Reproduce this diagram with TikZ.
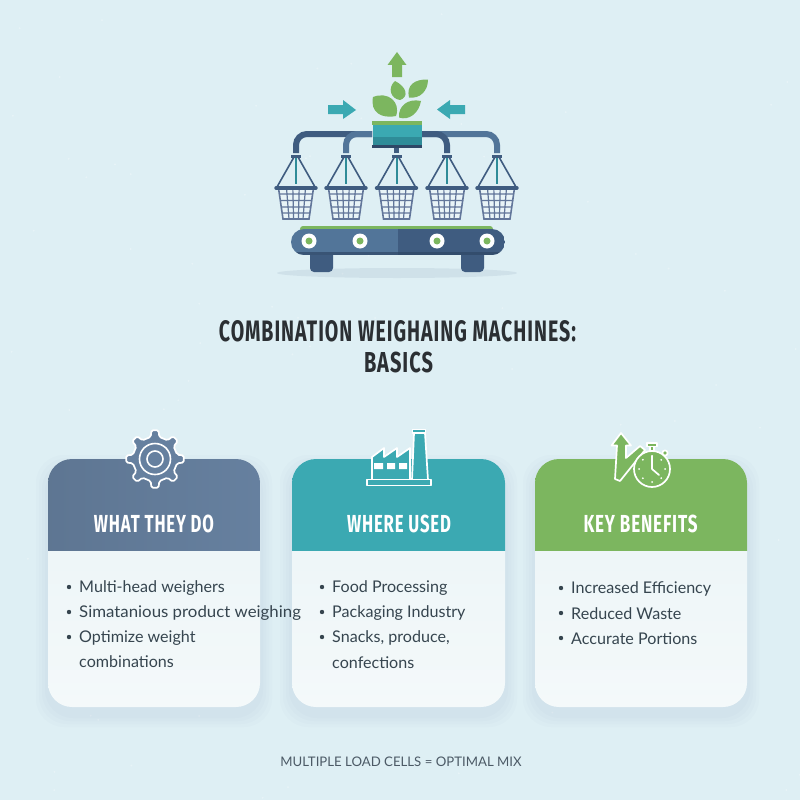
\documentclass[tikz,border=0pt]{standalone}
\usepackage{graphicx}
\usepackage{fontspec}
\setmainfont{Lato}
\newfontfamily\headfont[LetterSpace=5]{Fira Sans}
\usetikzlibrary{calc}
\definecolor{bgc}{HTML}{DEEFF4}
\definecolor{cardtop}{HTML}{EAF4F7}
\definecolor{cardbot}{HTML}{F4F9FA}
\definecolor{navy}{HTML}{3F5C80}
\definecolor{midblue}{HTML}{527599}
\definecolor{darkb}{HTML}{2F4766}
\definecolor{gridb}{HTML}{62769A}
\definecolor{tealc}{HTML}{3BA9B2}
\definecolor{teald}{HTML}{2F8C98}
\definecolor{greenc}{HTML}{7CB65F}
\definecolor{slatec}{HTML}{66809F}
\definecolor{inkc}{HTML}{2B2F33}
\definecolor{bodyc}{HTML}{36454F}
\definecolor{footc}{HTML}{4C5A66}
\tikzset{
  x=1pt,y=-1pt,
  iconline/.style={draw=white,line width=1.7pt,line join=round},
  bodytext/.style={anchor=west,inner sep=0pt,font=\fontsize{16.1}{18}\selectfont,text=bodyc},
  bulletdot/.style={circle,fill=bodyc,inner sep=0pt,minimum size=4.4pt},
  fittext/.style={inner sep=0pt},
  pipe/.style={draw=navy,line width=6pt,rounded corners=11pt},
}
\newcommand{\fitbox}[4]{\resizebox{#1pt}{#2pt}{\headfont\bfseries\color{#3}#4}}
\newcommand{\cardbox}[4]{%
  \foreach \g in {12,9,6,3}{
    \fill[navy,opacity=0.014,rounded corners=28pt] (#1-\g,459+8-\g) rectangle (#2+\g,707+8+\g);
  }
  \shade[top color=cardtop,bottom color=cardbot,rounded corners=24pt] (#1,459) rectangle (#2,707);
  \begin{scope}
    \clip (#1,459) rectangle (#2,550);
    \shade[left color=#3,right color=#4,rounded corners=24pt] (#1,459) rectangle (#2,707);
  \end{scope}
}
\newcommand{\basket}[1]{%
  \begin{scope}[shift={(#1,0)}]
    \fill[white,opacity=0.35] (-17.5,188) -- (-13,219) -- (13,219) -- (17.5,188) -- cycle;
    \draw[navy,line width=1.6pt] (-2,157) -- (-19,187) (2,157) -- (19,187);
    \draw[teald,line width=2pt] (0,158) -- (0,184);
    \fill[navy] (-5,154.5) rectangle (5,157.5);
    \draw[gridb,line width=1.6pt] (-17.5,188) -- (-13,219) -- (13,219) -- (17.5,188);
    \draw[gridb,line width=1.2pt]
      (-9.5,188) -- (-7,219) (-3.2,188) -- (-2.4,219) (3.2,188) -- (2.4,219) (9.5,188) -- (7,219)
      (-16.8,194) -- (16.8,194) (-16,200.5) -- (16,200.5) (-15,207) -- (15,207) (-14,213) -- (14,213);
    \draw[navy,line width=3.4pt,line cap=round] (-20,188) -- (20,188);
  \end{scope}
}
\begin{document}
\begin{tikzpicture}
\useasboundingbox (0,0) rectangle (800,800);
\fill[bgc] (0,0) rectangle (800,800);
\pgfmathsetseed{42}
\foreach \i in {1,...,90}{
  \pgfmathsetmacro{\px}{rnd*800}
  \pgfmathsetmacro{\py}{rnd*800}
  \fill[white,opacity=0.3] (\px,\py) circle (1pt);
}
% machine shadow
\fill[navy,opacity=0.09] (397,273) ellipse (120 and 5);
% arrows
\fill[greenc] (397,52) -- (406.5,65) -- (402,65) -- (402,77) -- (392,77) -- (392,65) -- (387.5,65) -- cycle;
\fill[tealc] (328,105) -- (343,105) -- (343,100) -- (356,110) -- (343,119) -- (343,114) -- (328,114) -- cycle;
\fill[tealc] (437,109.5) -- (450,100) -- (450,105) -- (465,105) -- (465,114) -- (450,114) -- (450,119) -- cycle;
% leaves
\fill[greenc] (373,97) .. controls (388,91) and (401,102) .. (396,116) .. controls (381,119) and (370,112) .. (373,97) -- cycle;
\fill[greenc] (395,81) .. controls (407,87) and (409,97) .. (400,100) .. controls (391,99) and (387,88) .. (395,81) -- cycle;
\fill[greenc] (428,79.5) .. controls (428,91) and (420,99) .. (409,97.5) .. controls (406,85) and (415,79) .. (428,79.5) -- cycle;
\fill[greenc] (421,101) .. controls (419,113) and (409,121) .. (399,117.5) .. controls (398,106) and (408,98) .. (421,101) -- cycle;
% pipes
\draw[pipe] (296,153) -- (296,134) -- (372,134);
\draw[pipe,draw=midblue] (346,153) -- (346,134) -- (372,134);
\draw[pipe,draw=midblue] (497,153) -- (497,134) -- (422,134);
\draw[pipe] (447,153) -- (447,134) -- (422,134);
% central box
\fill[navy] (394,148) rectangle (399,153);
\fill[tealc] (373,125) rectangle (422,137);
\fill[teald] (373,137) rectangle (422,145);
\fill[darkb] (372,145) rectangle (422,148);
\fill[greenc] (372,121) rectangle (422,125);
% baskets
\basket{296}
\basket{346}
\basket{396.5}
\basket{447}
\basket{497}
% conveyor
\fill[navy,rounded corners=4pt] (310,250) rectangle (333,272);
\fill[navy,rounded corners=4pt] (461,250) rectangle (484,272);
\fill[greenc,rounded corners=3pt] (300,226) rectangle (493,232);
\begin{scope}
  \clip[rounded corners=13pt] (291,229) rectangle (505,255);
  \fill[midblue] (291,229) rectangle (398,255);
  \fill[navy] (398,229) rectangle (505,255);
  \fill[darkb,opacity=0.7] (291,252) rectangle (505,255);
\end{scope}
\foreach \wx in {309,360,437,487}{
  \fill[white] (\wx,241) circle (7.5);
  \fill[greenc] (\wx,241) circle (3.5);
}
% title
\node[fittext] (title1) at (397.5,331.5) {\fitbox{357}{21}{inkc}{COMBINATION WEIGHAING MACHINES:}};
\node[fittext] (title2) at (398.5,362.5) {\fitbox{69}{20.5}{inkc}{BASICS}};
% cards
\cardbox{48}{260}{slatec!92!black}{slatec}
\cardbox{292}{505}{tealc}{tealc}
\cardbox{535}{747}{greenc}{greenc}
% gear icon
\draw[iconline,fill=slatec,rounded corners=1.6pt]
  ([shift={(155,459)}]-11:22.5)
  \foreach \a in {0,45,...,315}{
    -- ([shift={(155,459)}]\a-11:22.5)
    -- ([shift={(155,459)}]\a-7:29)
    -- ([shift={(155,459)}]\a+7:29)
    -- ([shift={(155,459)}]\a+11:22.5)
  } -- cycle;
\draw[white,line width=1.6pt] (155,459) circle (15.5) (155,459) circle (8);
% factory icon
\draw[iconline,fill=tealc] (372,480) -- (372,457) -- (384,448) -- (384,457) -- (397,448) -- (397,457) -- (410,448) -- (410,480) -- cycle;
\draw[iconline,fill=tealc] (412,480) -- (414,433) -- (425,433) -- (428,480) -- cycle;
\draw[iconline,fill=tealc] (412.5,429.5) rectangle (425.5,433);
\draw[iconline,fill=tealc] (367,479.5) rectangle (431,485.5);
\fill[white] (374,463) rectangle (383,469) (387,463) rectangle (395,469) (399,463) rectangle (407,469);
% benefits icon
\draw[iconline,fill=greenc] (621,433) -- (631,445.5) -- (626,445.5) -- (626,458) -- (640,446) -- (645,450) -- (636,461) -- (620,481) -- (615,479) -- (617,445.5) -- (611.5,445.5) -- cycle;
\draw[iconline,fill=greenc] (650,443) rectangle (654,451);
\draw[iconline,fill=greenc] (647,443) rectangle (657,446.5);
\draw[iconline,fill=greenc] (665,453) circle (2.6);
\draw[iconline,fill=greenc] (652,469) circle (18);
\foreach \a in {0,45,...,315}{
  \fill[white] ([shift={(652,469)}]\a:13) circle (1);
}
\draw[white,line width=1.7pt,line cap=round,line join=round] (652,456) -- (652,469) -- (659,475);
% headings
\node[fittext] (h1) at (154,524) {\fitbox{120}{17.5}{white}{WHAT THEY DO}};
\node[fittext] (h2) at (399,524) {\fitbox{104}{17.5}{white}{WHERE USED}};
\node[fittext] (h3) at (640.5,524) {\fitbox{114}{17.5}{white}{KEY BENEFITS}};
% card one text
\node[bulletdot] (b11) at (69,587) {};
\node[bodytext] (t11) at (79,588) {Multi-head weighers};
\node[bulletdot] (b12) at (69,612) {};
\node[bodytext] (t12) at (79,613) {\scalebox{1.045}[1]{Simatanious product weighing}};
\node[bulletdot] (b13) at (69,637) {};
\node[bodytext] (t13) at (79,638) {Optimize weight};
\node[bodytext] (t14) at (79,662) {combinations};
% card two text
\node[bulletdot] (b21) at (322,587) {};
\node[bodytext] (t21) at (332,588) {Food Processing};
\node[bulletdot] (b22) at (322,612) {};
\node[bodytext] (t22) at (332,613) {Packaging Industry};
\node[bulletdot] (b23) at (322,637) {};
\node[bodytext] (t23) at (332,638) {Snacks, produce,};
\node[bodytext] (t24) at (332,663) {confections};
% card three text
\node[bulletdot] (b31) at (561,588) {};
\node[bodytext] (t31) at (571,589) {Increased Efficiency};
\node[bulletdot] (b32) at (561,613) {};
\node[bodytext] (t32) at (571,614) {Reduced Waste};
\node[bulletdot] (b33) at (561,638) {};
\node[bodytext] (t33) at (571,639) {Accurate Portions};
% footer
\node[inner sep=0pt,text=footc,font=\fontsize{13.2}{16}\selectfont] (foot) at (401,762) {MULTIPLE LOAD CELLS = OPTIMAL MIX};
\end{tikzpicture}
\end{document}
